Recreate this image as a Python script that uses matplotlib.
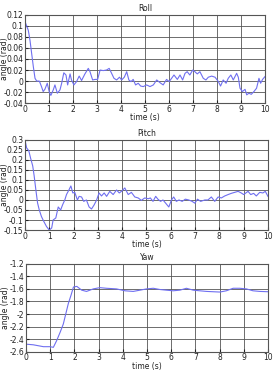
import numpy as np
import matplotlib
matplotlib.use("Agg")
import matplotlib.pyplot as plt

# ---------------------------------------------------------------------------
# Data
# ---------------------------------------------------------------------------
roll_t = [0.0, 0.07, 0.14, 0.21, 0.28, 0.35, 0.42, 0.49, 0.6, 0.69, 0.76,
          0.83, 0.93, 1.01, 1.08, 1.18, 1.25, 1.35, 1.46, 1.53, 1.62, 1.71,
          1.78, 1.88, 1.94, 2.04, 2.15, 2.26, 2.36, 2.5, 2.64, 2.71, 2.82,
          2.92, 3.03, 3.13, 3.26, 3.4, 3.51, 3.6, 3.71, 3.82, 3.94, 4.03,
          4.14, 4.24, 4.33, 4.42, 4.51, 4.61, 4.72, 4.82, 4.93, 5.07, 5.21,
          5.35, 5.49, 5.63, 5.76, 5.9, 6.01, 6.11, 6.21, 6.35, 6.46, 6.57,
          6.67, 6.76, 6.87, 6.99, 7.08, 7.18, 7.29, 7.43, 7.54, 7.64, 7.78,
          7.92, 8.06, 8.15, 8.26, 8.38, 8.47, 8.58, 8.68, 8.82, 8.89, 8.96,
          9.06, 9.17, 9.24, 9.33, 9.43, 9.54, 9.65, 9.75, 9.82, 9.9, 10.0]
roll_v = [0.108, 0.10, 0.092, 0.074, 0.05, 0.026, 0.005, 0.0, 0.0, -0.01,
          -0.019, -0.015, -0.004, -0.019, -0.026, -0.016, -0.007, -0.022,
          -0.016, -0.004, 0.015, 0.011, -0.007, 0.013, 0.002, -0.007, -0.001,
          0.009, 0.001, 0.013, 0.023, 0.017, 0.002, 0.003, 0.003, 0.020, 0.019,
          0.020, 0.023, 0.015, 0.005, 0.002, 0.007, 0.002, 0.007, 0.017, 0.002,
          -0.001, 0.003, -0.007, -0.004, -0.009, -0.010, -0.007, -0.010,
          -0.007, 0.002, -0.003, -0.007, 0.003, -0.001, 0.005, 0.011, 0.003,
          0.011, 0.002, 0.014, 0.017, 0.011, 0.020, 0.017, 0.013, 0.017, 0.005,
          0.002, 0.007, 0.009, 0.007, -0.001, -0.009, 0.002, -0.004, 0.005,
          0.011, 0.002, 0.014, 0.007, -0.013, -0.019, -0.015, -0.025, -0.022,
          -0.024, -0.019, -0.013, 0.005, -0.004, 0.003, 0.008]

pitch_t = [0.0, 0.07, 0.16, 0.23, 0.32, 0.38, 0.45, 0.52, 0.59, 0.68, 0.78,
           0.89, 1.0, 1.1, 1.16, 1.27, 1.37, 1.47, 1.55, 1.64, 1.71, 1.81,
           1.89, 1.97, 2.05, 2.16, 2.23, 2.33, 2.42, 2.53, 2.64, 2.74, 2.85,
           2.95, 3.05, 3.15, 3.26, 3.36, 3.49, 3.63, 3.77, 3.88, 3.97, 4.11,
           4.25, 4.38, 4.52, 4.66, 4.79, 4.93, 5.07, 5.16, 5.27, 5.38, 5.47,
           5.58, 5.68, 5.79, 5.92, 6.03, 6.12, 6.23, 6.34, 6.47, 6.6, 6.74,
           6.88, 6.99, 7.1, 7.23, 7.4, 7.53, 7.67, 7.81, 7.95, 8.08, 8.22,
           8.36, 8.49, 8.63, 8.77, 8.9, 9.0, 9.18, 9.29, 9.41, 9.52, 9.66,
           9.79, 9.89, 10.0]
pitch_v = [0.30, 0.26, 0.245, 0.21, 0.17, 0.12, 0.05, -0.015, -0.05, -0.083,
           -0.108, -0.133, -0.15, -0.14, -0.10, -0.09, -0.035, -0.05, -0.024,
           0.0, 0.027, 0.05, 0.07, 0.035, 0.038, 0.0, 0.018, 0.015, -0.007,
           0.0, -0.035, -0.045, -0.024, 0.0, 0.035, 0.02, 0.035, 0.018, 0.043,
           0.027, 0.05, 0.035, 0.043, 0.06, 0.027, 0.038, 0.015, 0.01, -0.002,
           0.01, 0.006, 0.01, -0.007, 0.018, 0.004, -0.007, 0.0, -0.016,
           -0.035, 0.0, 0.015, -0.007, 0.0, -0.007, 0.004, 0.0, -0.007,
           -0.016, 0.004, -0.007, 0.0, 0.0, 0.015, -0.007, 0.015, 0.01, 0.02,
           0.027, 0.033, 0.038, 0.043, 0.035, 0.027, 0.043, 0.027, 0.033, 0.02,
           0.038, 0.035, 0.043, 0.018]

yaw_t = [0.0, 0.3, 0.58, 0.72, 0.85, 0.99, 1.13, 1.27, 1.41, 1.54, 1.61,
         1.75, 1.86, 1.96, 2.1, 2.3, 2.5, 2.78, 3.05, 3.33, 3.74, 4.09, 4.43,
         4.71, 4.98, 5.26, 5.54, 5.8, 6.08, 6.36, 6.63, 6.91, 7.18, 7.46,
         7.73, 8.01, 8.28, 8.56, 8.83, 9.11, 9.38, 9.66, 10.0]
yaw_v = [-2.48, -2.49, -2.51, -2.52, -2.52, -2.52, -2.53, -2.42, -2.29, -2.16,
         -2.05, -1.83, -1.70, -1.57, -1.56, -1.62, -1.64, -1.60, -1.58, -1.59,
         -1.60, -1.63, -1.64, -1.62, -1.60, -1.59, -1.61, -1.62, -1.63, -1.62,
         -1.59, -1.62, -1.63, -1.64, -1.645, -1.65, -1.63, -1.59, -1.59, -1.60,
         -1.63, -1.64, -1.645]

roll_ticks = [-0.04, -0.02, 0, 0.02, 0.04, 0.06, 0.08, 0.1, 0.12]
pitch_ticks = [-0.15, -0.1, -0.05, 0, 0.05, 0.1, 0.15, 0.2, 0.25, 0.3]
yaw_ticks = [-2.6, -2.4, -2.2, -2, -1.8, -1.6, -1.4, -1.2]
time_ticks = list(range(0, 11))

LINE = "#6f6ff0"
TXT = "#222222"
FS = 5.5

# ---------------------------------------------------------------------------
# Figure
# ---------------------------------------------------------------------------
fig = plt.figure(figsize=(2.74, 3.71), dpi=100)

panels = [
    ("Roll", roll_t, roll_v, roll_ticks, [0.091, 0.722, 0.876, 0.238]),
    ("Pitch", pitch_t, pitch_v, pitch_ticks, [0.091, 0.380, 0.887, 0.243]),
    ("Yaw", yaw_t, yaw_v, yaw_ticks, [0.095, 0.052, 0.883, 0.237]),
]

for title, t, v, yticks, rect in panels:
    ax = fig.add_axes(rect)
    ax.plot(t, v, color=LINE, lw=0.8)
    ax.set_xlim(0, 10)
    ax.set_ylim(yticks[0], yticks[-1])
    ax.set_xticks(time_ticks)
    ax.set_yticks(yticks)
    ax.set_yticklabels([f"{y:g}" for y in yticks])
    ax.grid(True, color="#555555", lw=0.6)
    ax.tick_params(direction="in", labelsize=FS, length=2, pad=1.2,
                   colors=TXT)
    for s in ax.spines.values():
        s.set_color("#555555")
        s.set_linewidth(0.8)
    ax.set_title(title, fontsize=FS, pad=2.5, color=TXT)
    ax.set_xlabel("time (s)", fontsize=FS, labelpad=-0.5, color=TXT)
    ax.set_ylabel("angle (rad)", fontsize=FS, color=TXT)
    # label sits over the tick labels, as in the original export
    ax.yaxis.set_label_coords(-16 / (rect[2] * 274), 0.5)

fig.savefig("out.png", dpi=100)
